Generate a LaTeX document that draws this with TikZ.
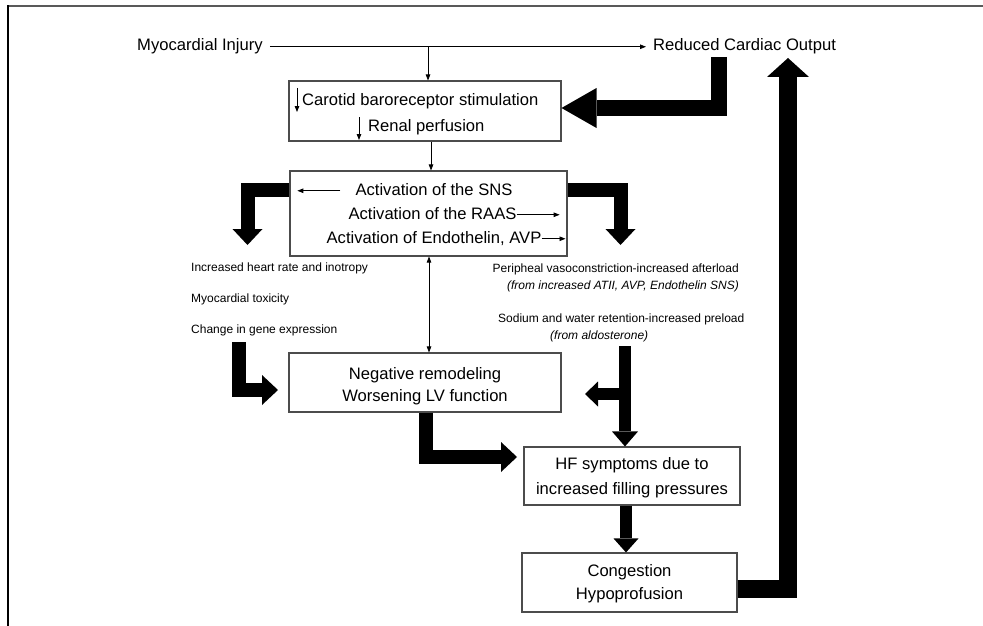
\documentclass[tikz,border=0pt]{standalone}
\usepackage{fontspec}
\setmainfont{Liberation Sans}
\usetikzlibrary{arrows.meta}

\begin{document}
\begin{tikzpicture}[x=1pt,y=-1pt,
  box/.style={draw=black!70, line width=1.1pt, inner sep=0pt},
  big/.style={font=\fontsize{16.6}{20}\selectfont, inner sep=0pt, text height=12pt, text depth=3.5pt},
  small/.style={font=\fontsize{12}{14}\selectfont, inner sep=0pt},
  thinarrow/.style={line width=0.8pt, -{Triangle[length=6pt,width=4.5pt]}},
  fat/.style={line width=14pt, line join=miter, -{Triangle[length=16pt,width=30pt,line width=0pt]}}
]
\fill[white] (0,0) rectangle (983,626);
\useasboundingbox (0,0) rectangle (983,626);

% frame
\draw[line width=2pt, black!65] (7,6.5) -- (983,6.5);
\draw[line width=2pt] (7.5,5.5) -- (7.5,626);

% top line
\node[big, anchor=base west] (myo) at (137,51) {Myocardial Injury};
\node[big, anchor=base west] (rco) at (653,51) {Reduced Cardiac Output};
\draw[thinarrow] ([xshift=7pt]myo.east) -- ([xshift=-7pt]rco.west);

% boxes
\node[box, minimum width=272pt, minimum height=60pt] (baro) at (425,111) {};
\node[box, minimum width=277pt, minimum height=85pt] (act) at (428.5,213.5) {};
\node[box, minimum width=272pt, minimum height=59pt] (remod) at (425,382.5) {};
\node[box, minimum width=216pt, minimum height=58pt] (hf) at (632,476) {};
\node[box, minimum width=215pt, minimum height=59pt] (cong) at (629.5,582.5) {};

% box texts
\node[big, anchor=base west] (carotid) at (302,106) {Carotid baroreceptor stimulation};
\node[big, anchor=base west] (renal) at (368,131) {Renal perfusion};
\node[big, anchor=base] (sns) at (434,195) {Activation of the SNS};
\node[big, anchor=base] (raas) at (432.5,219) {Activation of the RAAS};
\node[big, anchor=base] (endo) at (434,243) {Activation of Endothelin, AVP};
\node[big, anchor=base] (rm1) at (425,379) {Negative remodeling};
\node[big, anchor=base] (rm2) at (425,401) {Worsening LV function};
\node[big, anchor=base] (hf1) at (632,469) {HF symptoms due to};
\node[big, anchor=base] (hf2) at (632,494) {increased filling pressures};
\node[big, anchor=base] (cg1) at (629.5,576) {Congestion};
\node[big, anchor=base] (cg2) at (629.5,599) {Hypoprofusion};

% side notes
\node[small, anchor=base west] (hr) at (191,271) {Increased heart rate and inotropy};
\node[small, anchor=base west] (tox) at (191,302) {Myocardial toxicity};
\node[small, anchor=base west] (gene) at (191,333) {Change in gene expression};
\node[small, anchor=base east] (vaso) at (739,272) {Peripheal vasoconstriction-increased afterload};
\node[small, anchor=base east] (vaso2) at (739,289) {\itshape (from increased ATII, AVP, Endothelin SNS)};
\node[small, anchor=base west] (na) at (498,322) {Sodium and water retention-increased preload};
\node[small, anchor=base west] (aldo) at (550,339) {\itshape (from aldosterone)};

% small arrows inside the boxes
\coordinate (c1a) at (297,88);
\coordinate (c1b) at (297,112);
\coordinate (r1a) at (359,117);
\coordinate (r1b) at (359,140);
\draw[thinarrow] (c1a) -- (c1b);
\draw[thinarrow] (r1a) -- (r1b);
\draw[thinarrow] ([xshift=-15pt]sns.west) -- ([xshift=-58pt]sns.west);
\draw[thinarrow] (raas.east) -- ([xshift=43pt]raas.east);
\draw[thinarrow] (endo.east) -- ([xshift=24pt]endo.east);

% thin connectors
\coordinate (j1) at (428,46.75);
\draw[thinarrow] (j1) -- (j1 |- baro.north);
\draw[thinarrow] ([xshift=6pt]baro.south) -- ([xshift=2.5pt]act.north);
\draw[line width=0.8pt, {Triangle[length=6pt,width=4.5pt]}-{Triangle[length=6pt,width=4.5pt]}]
  ([xshift=0.5pt]act.south) -- ([xshift=4pt]remod.north);

% thick arrows
\coordinate (rcoFoot) at (719,57);
\draw[fat, line width=16pt, -{Triangle[length=35pt,width=40pt,line width=0pt]}]
  (rcoFoot) |- ([yshift=3pt]baro.east);

\coordinate (tipB) at (247.5,245);
\draw[fat] ([yshift=23.5pt]act.west) -| (tipB);
\coordinate (tipC) at (620.5,245);
\draw[fat] ([yshift=23.5pt]act.east) -| (tipC);

\coordinate (dStart) at (238.5,342);
\coordinate (tipD) at (278,390);
\draw[fat] (dStart) |- (tipD);

\coordinate (tipE) at (517,457);
\draw[fat] ([xshift=1pt]remod.south) |- (tipE);

\coordinate (fStart) at (625,346);
\coordinate (fJoin) at (625,394);
\coordinate (tipF) at (585,394);
\draw[fat, line width=12pt, -{Triangle[length=15pt,width=26pt,line width=0pt]}] (fStart) -- (fStart |- hf.north);
\draw[fat, line width=12pt, -{Triangle[length=13pt,width=25pt,line width=0pt]}] (fJoin) -- (tipF);

\draw[fat, line width=12pt, -{Triangle[length=14pt,width=25pt,line width=0pt]}]
  ([xshift=-6pt]hf.south) -- ([xshift=-6pt]hf.south |- cong.north);

\coordinate (tipH) at (788,58);
\draw[fat, line width=18pt, -{Triangle[length=19pt,width=42pt,line width=0pt]}]
  ([yshift=-6.5pt]cong.east) -| (tipH);
\end{tikzpicture}
\end{document}
